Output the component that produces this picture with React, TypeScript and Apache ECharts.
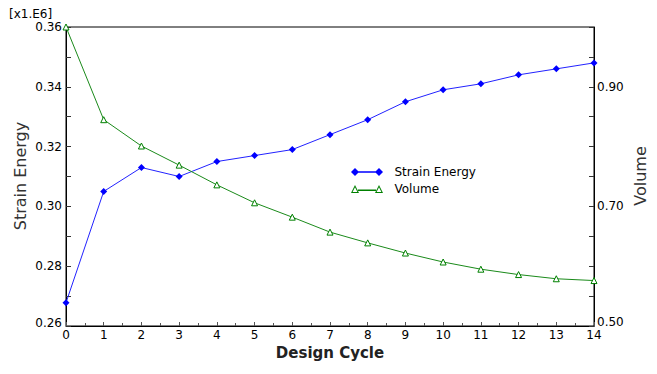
import React, { useEffect, useRef } from "react";
import * as echarts from "echarts";

const cycles = [0, 1, 2, 3, 4, 5, 6, 7, 8, 9, 10, 11, 12, 13, 14];
const strainEnergy = [0.2678, 0.305, 0.313, 0.310, 0.315, 0.317, 0.319, 0.324, 0.329, 0.335, 0.339, 0.341, 0.344, 0.346, 0.348];
const volume = [1.0, 0.845, 0.801, 0.769, 0.736, 0.706, 0.682, 0.657, 0.639, 0.622, 0.607, 0.595, 0.586, 0.579, 0.576];
const leftLabels = [26, 28, 30, 32, 34, 36];
const rightLabels = [50, 70, 90];

const FONT = "DejaVu Sans";

const diamondIcon =
  "path://M0 4L4 0L8 4L4 8ZM24 4L28 0L32 4L28 8ZM4 3.2L28 3.2L28 4.8L4 4.8Z";
const triangleIcon =
  "path://M0 8L4 0L8 8ZM1.6 7L6.4 7L4 2.2ZM24 8L28 0L32 8ZM25.6 7L30.4 7L28 2.2ZM7 4.6L25 4.6L25 6L7 6Z";

export default function App() {
  const ref = useRef<HTMLDivElement>(null);
  useEffect(() => {
    if (!ref.current) return;
    const chart = echarts.init(ref.current, undefined, { renderer: "svg" });
    const axisLineStyle = { color: "#000", width: 1 };
    chart.setOption({
      animation: false,
      backgroundColor: "#fff",
      grid: { left: 66, right: 63, top: 27, bottom: 48, show: true, borderColor: "#000", borderWidth: 1 },
      legend: {
        orient: "vertical",
        left: 346,
        top: 161,
        itemWidth: 33,
        itemHeight: 8,
        itemGap: 5,
        textStyle: { fontFamily: FONT, fontSize: 12, color: "#000", padding: [0, 0, 0, 6] },
        data: [
          { name: "Strain Energy", icon: diamondIcon, itemStyle: { color: "#0000ff", borderWidth: 0 } },
          { name: "Volume", icon: triangleIcon, itemStyle: { color: "#008000", borderWidth: 0 } },
        ],
      },
      xAxis: {
        type: "value",
        min: 0,
        max: 14,
        interval: 1,
        axisLine: { lineStyle: axisLineStyle },
        axisTick: { inside: true, length: 4, lineStyle: { color: "#555" } },
        minorTick: { show: true, splitNumber: 2, length: 3, lineStyle: { color: "#555" } },
        splitLine: { show: false },
        axisLabel: { fontFamily: FONT, fontSize: 12, color: "#000", margin: 3 },
      },
      yAxis: [
        {
          type: "value",
          min: 0.26,
          max: 0.36,
          interval: 0.01,
          axisLine: { show: true, lineStyle: axisLineStyle },
          axisTick: { show: true, inside: true, length: 5, lineStyle: { color: "#333" } },
          splitLine: { show: false },
          axisLabel: {
            fontFamily: FONT,
            fontSize: 12,
            color: "#000",
            margin: 4,
            showMinLabel: true,
            showMaxLabel: true,
            formatter: (v: number) => {
              const k = Math.round(v * 100);
              if (k === 26) return "{lo|0.26}";
              return leftLabels.includes(k) ? v.toFixed(2) : "";
            },
            rich: { lo: { fontFamily: FONT, fontSize: 12, color: "#000", padding: [0, 0, 6, 0] } },
          },
        },
        {
          type: "value",
          min: 0.5,
          max: 1.0,
          interval: 0.05,
          position: "right",
          axisLine: { show: true, lineStyle: axisLineStyle },
          axisTick: { show: true, inside: true, length: 5, lineStyle: { color: "#333" } },
          splitLine: { show: false },
          axisLabel: {
            fontFamily: FONT,
            fontSize: 12,
            color: "#000",
            margin: 3,
            formatter: (v: number) => {
              const k = Math.round(v * 100);
              if (k === 50) return "{lo|0.50}";
              return rightLabels.includes(k) ? v.toFixed(2) : "";
            },
            rich: { lo: { fontFamily: FONT, fontSize: 12, color: "#000", padding: [0, 0, 8, 0] } },
          },
        },
      ],
      series: [
        {
          name: "Strain Energy",
          type: "line",
          yAxisIndex: 0,
          data: cycles.map((c, i) => [c, strainEnergy[i]]),
          symbol: "diamond",
          symbolSize: 7,
          itemStyle: { color: "#0000ff" },
          lineStyle: { color: "#2222ff", width: 1 },
        },
        {
          name: "Volume",
          type: "line",
          yAxisIndex: 1,
          data: cycles.map((c, i) => [c, volume[i]]),
          symbol: "triangle",
          symbolSize: 6,
          itemStyle: { color: "#ffffff", borderColor: "#008000", borderWidth: 1 },
          lineStyle: { color: "#1a8a1a", width: 1 },
        },
      ],
      graphic: [
        { type: "text", left: 9, top: 8, style: { text: "[x1.E6]", font: `12px '${FONT}'`, fill: "#000" } },
        {
          type: "text",
          x: 20,
          y: 176,
          rotation: Math.PI / 2,
          style: { text: "Strain Energy", font: `16px '${FONT}'`, fill: "#333", textAlign: "center", textVerticalAlign: "middle" },
        },
        {
          type: "text",
          x: 640,
          y: 176,
          rotation: Math.PI / 2,
          style: { text: "Volume", font: `16px '${FONT}'`, fill: "#333", textAlign: "center", textVerticalAlign: "middle" },
        },
        {
          type: "text",
          x: 330,
          y: 353,
          style: { text: "Design Cycle", font: `bold 15px '${FONT}'`, fill: "#222", textAlign: "center", textVerticalAlign: "middle" },
        },
      ],
    });
    return () => chart.dispose();
  }, []);
  return <div ref={ref} style={{ width: 657, height: 374, position: "absolute", left: 0, top: 0 }} />;
}
